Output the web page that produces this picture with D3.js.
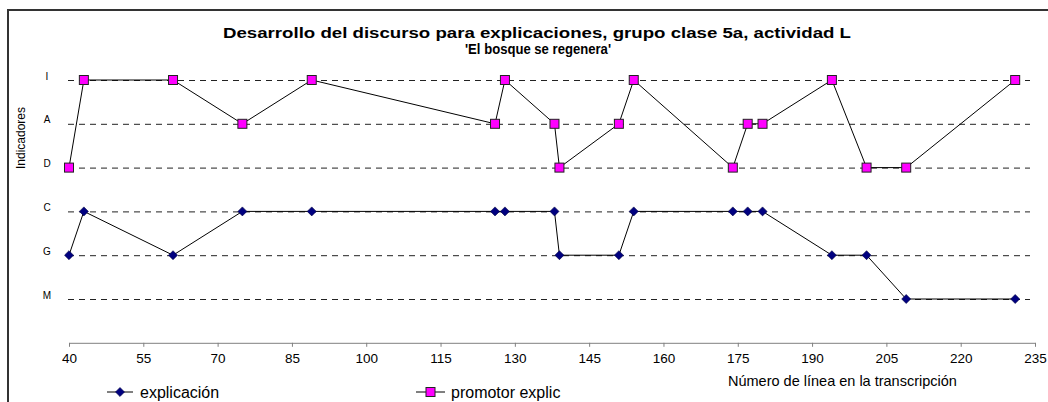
<!DOCTYPE html>
<meta charset="utf-8">
<script src="https://d3js.org/d3.v7.min.js"></script>
<style>
body { margin: 0; background: #fff; }
text { font-family: Arial, "Liberation Sans", sans-serif; fill: #000; }
</style>
<div id="chart"></div>
<script>
// line numbers in the transcript (shared by both series)
var lineas = [40, 43, 61, 75, 89, 126, 128, 138, 139, 151, 154, 174, 177, 180, 194, 201, 209, 231];
// indicator codes for each series
var explicacion = ["G","C","G","C","C","C","C","C","G","G","C","C","C","C","G","G","M","M"];
var promotor    = ["D","I","I","A","I","A","I","A","D","A","I","D","A","A","I","D","D","I"];
// y categories, bottom to top
var indicadores = ["M","G","C","D","A","I"];
var xTicks = [40, 55, 70, 85, 100, 115, 130, 145, 160, 175, 190, 205, 220, 235];

var width = 1048, height = 402;

var svg = d3.select("#chart").append("svg")
  .attr("width", width)
  .attr("height", height);

// outer frame (top and left only are visible)
svg.append("path")
  .attr("d", "M8,402 L8,10 L1048,10")
  .attr("fill", "none")
  .attr("stroke", "#333")
  .attr("stroke-width", 2);

var x = d3.scaleLinear().domain([40, 235]).range([69, 1035]);
var y = d3.scaleLinear().domain([0, 7]).range([342.8, 36.2]);
function lvl(c) { return indicadores.indexOf(c) + 1; }

// title
svg.append("text")
  .attr("x", 537).attr("y", 38)
  .attr("text-anchor", "middle")
  .attr("textLength", 628)
  .attr("lengthAdjust", "spacingAndGlyphs")
  .style("font-weight", "bold").style("font-size", "15.5px")
  .text("Desarrollo del discurso para explicaciones, grupo clase 5a, actividad L");
svg.append("text")
  .attr("x", 538).attr("y", 53.5)
  .attr("text-anchor", "middle")
  .attr("textLength", 146)
  .attr("lengthAdjust", "spacingAndGlyphs")
  .style("font-weight", "bold").style("font-size", "15.5px")
  .text("'El bosque se regenera'");

// dashed gridlines for each indicator
svg.append("g").selectAll("line")
  .data(indicadores)
  .enter().append("line")
    .attr("x1", x(40) - 1).attr("x2", x(235) - 5)
    .attr("y1", function(d) { return y(lvl(d)) + 0.5; })
    .attr("y2", function(d) { return y(lvl(d)) + 0.5; })
    .attr("stroke", "#222")
    .attr("stroke-width", 1)
    .attr("stroke-dasharray", "6,5");

// y labels (slightly above the lines)
svg.append("g").selectAll("text")
  .data(indicadores)
  .enter().append("text")
    .attr("x", 47)
    .attr("y", function(d) { return y(lvl(d)) - 0.5; })
    .attr("text-anchor", "middle")
    .style("font-size", "10px")
    .text(function(d) { return d; });

svg.append("text")
  .attr("transform", "translate(25,138) rotate(-90)")
  .attr("text-anchor", "middle")
  .style("font-size", "12px")
  .text("Indicadores");

// x axis
var xAxis = svg.append("g")
  .attr("transform", "translate(0," + y(0) + ")")
  .call(d3.axisBottom(x).tickValues(xTicks).tickSize(4).tickSizeOuter(0).tickPadding(7));
xAxis.select(".domain").attr("stroke", "#808080");
xAxis.selectAll(".tick line").attr("stroke", "#808080");
xAxis.selectAll(".tick text")
  .style("font-family", "Arial, 'Liberation Sans', sans-serif")
  .style("font-size", "13.5px")
  .attr("fill", "#000");

// series lines
var line = d3.line()
  .x(function(d) { return x(d[0]); })
  .y(function(d) { return y(d[1]); });

var dataExp = lineas.map(function(l, i) { return [l, lvl(explicacion[i])]; });
var dataPro = lineas.map(function(l, i) { return [l, lvl(promotor[i])]; });

svg.append("path").datum(dataExp)
  .attr("d", line).attr("fill", "none").attr("stroke", "#000").attr("stroke-width", 1);
svg.append("path").datum(dataPro)
  .attr("d", line).attr("fill", "none").attr("stroke", "#000").attr("stroke-width", 1);

var diamond = d3.symbol().type(d3.symbolDiamond2).size(52);

svg.append("g").selectAll("path")
  .data(dataExp)
  .enter().append("path")
    .attr("d", diamond)
    .attr("transform", function(d) { return "translate(" + x(d[0]) + "," + y(d[1]) + ")"; })
    .attr("fill", "#000080")
    .attr("stroke", "#000040")
    .attr("stroke-width", 0.6);

svg.append("g").selectAll("rect")
  .data(dataPro)
  .enter().append("rect")
    .attr("x", function(d) { return x(d[0]) - 4.5; })
    .attr("y", function(d) { return y(d[1]) - 4.5; })
    .attr("width", 9).attr("height", 9)
    .attr("fill", "#ff00ff")
    .attr("stroke", "#222")
    .attr("stroke-width", 1);

// x title
svg.append("text")
  .attr("x", 728).attr("y", 386)
  .style("font-size", "14.5px")
  .text("Número de línea en la transcripción");

// legend
var legY = 392;
svg.append("line").attr("x1", 107).attr("x2", 133).attr("y1", legY).attr("y2", legY).attr("stroke", "#000");
svg.append("path").attr("d", diamond)
  .attr("transform", "translate(120," + legY + ")")
  .attr("fill", "#000080").attr("stroke", "#000040").attr("stroke-width", 0.6);
svg.append("text").attr("x", 140).attr("y", legY + 5.5).style("font-size", "16px").text("explicación");

svg.append("line").attr("x1", 416).attr("x2", 445).attr("y1", legY).attr("y2", legY).attr("stroke", "#000");
svg.append("rect").attr("x", 426).attr("y", legY - 4.5).attr("width", 9).attr("height", 9)
  .attr("fill", "#ff00ff").attr("stroke", "#222");
svg.append("text").attr("x", 451).attr("y", legY + 5.5).style("font-size", "16px").text("promotor explic");
</script>
